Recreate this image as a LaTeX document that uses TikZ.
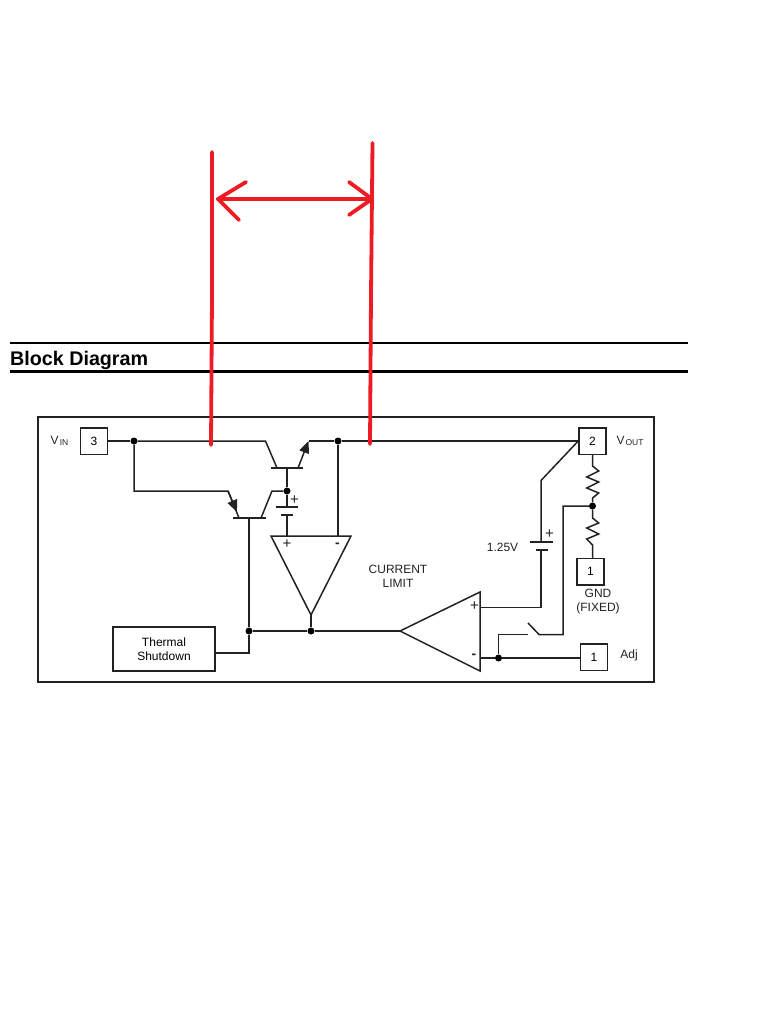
\documentclass[tikz,border=0pt]{standalone}
\usepackage{fontspec}
\setmainfont{Liberation Sans}
\usetikzlibrary{arrows.meta}
\definecolor{inkline}{HTML}{222222}
\definecolor{markred}{HTML}{ED1C24}
\newcommand{\lowtext}[1]{\kern1pt\raisebox{-1.5pt}{\fontsize{8.5}{9}\selectfont #1}}
\tikzset{
  wire/.style={draw=inkline, line width=1.5pt, line join=miter},
  pinbox/.style={draw=inkline, line width=1.5pt, fill=white, minimum width=27pt, minimum height=26.5pt, inner sep=0pt, font=\fontsize{12}{14}\selectfont},
  dot/.style={circle, fill=black, minimum size=7pt, inner sep=0pt},
  lbl/.style={font=\fontsize{12}{14}\selectfont, text=inkline, inner sep=0pt, align=center},
  signlbl/.style={font=\fontsize{15}{15}\selectfont, text=inkline, inner sep=0pt},
  redline/.style={draw=markred, line width=3.8pt, line cap=round, line join=round},
  rule/.style={draw=black, line width=2.4pt}
}
\begin{document}
\begin{tikzpicture}[x=1pt, y=-1pt, >={Stealth[inset=0pt,length=12pt,width=10pt]}]
  \useasboundingbox (0,0) rectangle (768,1024);

  % heading
  \coordinate (ruleAw) at (10,343);
  \coordinate (ruleAe) at (688,343);
  \coordinate (ruleBw) at (10,371.5);
  \coordinate (ruleBe) at (688,371.5);
  \draw[rule] (ruleAw) -- (ruleAe);
  \draw[rule] (ruleBw) -- (ruleBe);
  \node[anchor=base west, inner sep=0pt, font=\fontsize{19.7}{22}\selectfont\bfseries] (title) at (10,365) {Block Diagram};

  % outer frame
  \node[draw=inkline, line width=1.5pt, minimum width=616pt, minimum height=265pt, inner sep=0pt] (frame) at (346,549.5) {};

  % pins
  \node[pinbox] (pinin) at (94,441) {3};
  \node[pinbox] (pinout) at (592.5,441) {2};
  \node[pinbox] (pingnd) at (590.5,571.5) {1};
  \node[pinbox] (pinadj) at (594,657) {1};
  \node[draw=inkline, line width=1.5pt, minimum width=102pt, minimum height=44pt, align=center, inner sep=0pt, font=\fontsize{12}{14}\selectfont] (thermal) at (164,649) {Thermal\\Shutdown};

  % pin labels
  \node[lbl] (vin) at (59.5,441) {V\lowtext{IN}};
  \node[lbl] (vout) at (630,441) {V\lowtext{OUT}};
  \node[lbl] (gnd) at (598,601.5) {GND\\(FIXED)};
  \node[lbl] (adj) at (629,655) {Adj};
  \node[lbl] (cvolt) at (502.5,547) {1.25V};
  \node[lbl] (climit) at (398,576) {CURRENT\\LIMIT};

  % junctions
  \node[dot] (jin) at (134,441) {};
  \node[dot] (jsense) at (338,441) {};
  \node[dot] (jbase) at (287,491) {};
  \node[dot] (jtherm) at (249,631) {};
  \node[dot] (jlim) at (311,631) {};
  \node[dot] (jdiv) at (592.5,506) {};
  \node[dot] (jneg) at (498.5,658) {};

  % pass transistor
  \coordinate (qac) at (265.5,441);
  \coordinate (qacb) at (277,468);
  \coordinate (qaw) at (271,468);
  \coordinate (qae) at (303,468);
  \coordinate (qab) at (287,468);
  \coordinate (qaeb) at (298,468);
  \coordinate (qat) at (308.5,441);
  \draw[wire] (jin) -- (qac) -- (qacb);
  \draw[wire] (qaw) -- (qae);
  \draw[wire, ->] (qaeb) -- (qat);
  \draw[wire] (qat) -- (jsense);
  \draw[wire] (jsense) -- (pinout.west);
  \draw[wire] (pinin) -- (jin);

  % driver transistor
  \coordinate (qbcorner) at (134,491);
  \coordinate (qbe) at (228,491);
  \coordinate (qbtip) at (237,512);
  \coordinate (qbeb) at (239,518);
  \coordinate (qbw) at (233,518);
  \coordinate (qbr) at (266,518);
  \coordinate (qbcb) at (261,518);
  \coordinate (qbc) at (272,491);
  \coordinate (qbb) at (249,518);
  \coordinate (thturn) at (249,653);
  \draw[wire] (jin) -- (qbcorner) -- (qbe) -- (qbeb);
  \draw[wire, ->] (qbe) -- (qbtip);
  \draw[wire] (qbw) -- (qbr);
  \draw[wire] (qbcb) -- (qbc) -- (jbase);
  \draw[wire] (qbb) -- (jtherm) -- (thturn) -- (thturn -| thermal.east);

  % base battery
  \coordinate (batAt) at (287,507);
  \coordinate (batAl) at (276,507);
  \coordinate (batAr) at (298,507);
  \coordinate (batBt) at (287,515);
  \coordinate (batBl) at (281,515);
  \coordinate (batBr) at (293,515);
  \coordinate (ampAp) at (287,536);
  \draw[wire] (qab) -- (jbase) -- (batAt);
  \draw[wire] (batAl) -- (batAr);
  \draw[wire] (batBl) -- (batBr);
  \draw[wire] (batBt) -- (ampAp);
  \node[signlbl] (plusbat) at (294.5,500.5) {+};

  % current limit amp
  \coordinate (ampAl) at (271,536);
  \coordinate (ampAr) at (351,536);
  \coordinate (ampAo) at (311,615);
  \coordinate (ampAn) at (338,536);
  \draw[wire] (ampAl) -- (ampAr) -- (ampAo) -- cycle;
  \draw[wire] (jsense) -- (ampAn);
  \draw[wire] (ampAo) -- (jlim);
  \node[signlbl] (plusA) at (287,544) {+};
  \node[lbl, font=\fontsize{14}{14}\selectfont\bfseries] (minusA) at (337.5,545) {-};

  % error amp
  \coordinate (ampBo) at (400,631);
  \coordinate (ampBt) at (480,592);
  \coordinate (ampBb) at (480,671);
  \coordinate (ampBp) at (480,607.5);
  \coordinate (ampBn) at (480,658);
  \draw[wire] (ampBo) -- (ampBt) -- (ampBb) -- cycle;
  \draw[wire] (jtherm) -- (jlim) -- (ampBo);
  \node[signlbl] (plusB) at (474.5,606.5) {+};
  \node[lbl, font=\fontsize{14}{14}\selectfont\bfseries] (minusB) at (474,656) {-};

  % reference battery
  \coordinate (refbend) at (541,480.5);
  \coordinate (refAt) at (541,542);
  \coordinate (refAl) at (530,542);
  \coordinate (refAr) at (553,542);
  \coordinate (refBt) at (541,550);
  \coordinate (refBl) at (536,550);
  \coordinate (refBr) at (548,550);
  \coordinate (refturn) at (541,607.5);
  \draw[wire] (pinout.west) -- (refbend) -- (refAt);
  \draw[wire] (refAl) -- (refAr);
  \draw[wire] (refBl) -- (refBr);
  \draw[wire] (refBt) -- (refturn) -- (ampBp);
  \node[signlbl] (plusref) at (549.5,534.5) {+};

  % divider
  \draw[wire] (pinout.south) -- ++(0,11) -- ++(6.2,5) -- ++(-12,6) -- ++(12,5) -- ++(-12,6) -- ++(12,5) -- ++(-6.2,5) -- (jdiv);
  \draw[wire] (jdiv) -- ++(0,12) -- ++(6.2,5) -- ++(-12,5) -- ++(12,6) -- ++(-12,5) -- ++(5.8,6) -- (592.5,558);

  % switch
  \coordinate (swdiv) at (563,506);
  \coordinate (swturn) at (563,634.5);
  \coordinate (swr) at (539,634.5);
  \coordinate (swarm) at (528,623);
  \coordinate (swl) at (528,634.5);
  \coordinate (swup) at (498.5,634.5);
  \draw[wire] (jdiv) -- (swdiv) -- (swturn) -- (swr) -- (swarm);
  \draw[wire] (jneg) -- (swup) -- (swl);
  \draw[wire] (ampBn) -- (jneg) -- (pinadj.west |- jneg);

  % red marks
  \coordinate (redAt) at (212,152);
  \coordinate (redAm) at (212,296);
  \coordinate (redAb) at (211,445);
  \coordinate (redBt) at (372.5,143);
  \coordinate (redBm) at (371,295);
  \coordinate (redBb) at (370,444);
  \coordinate (headL) at (218,199);
  \coordinate (headR) at (372,199);
  \coordinate (headLa) at (246,182);
  \coordinate (headLb) at (239,220);
  \coordinate (headRa) at (349,182);
  \coordinate (headRb) at (349,215);
  \draw[redline] (redAt) -- (redAm) -- (redAb);
  \draw[redline] (redBt) -- (redBm) -- (redBb);
  \draw[redline] (headL) -- (headR);
  \draw[redline] (headLa) -- (headL) -- (headLb);
  \draw[redline] (headRa) -- (headR) -- (headRb);
\end{tikzpicture}
\end{document}
